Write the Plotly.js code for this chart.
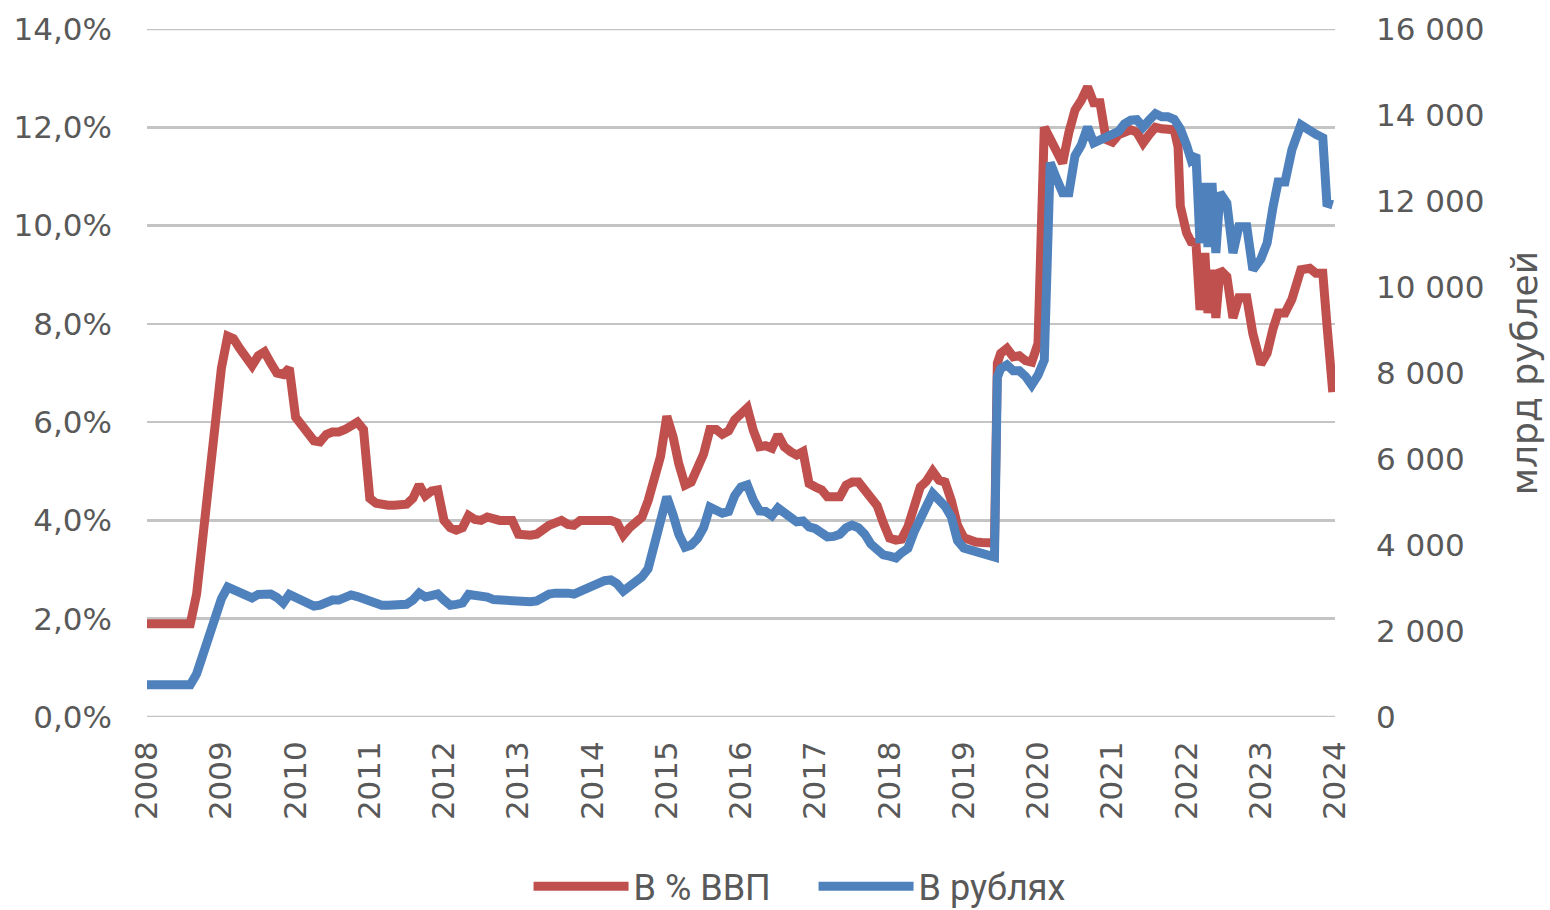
<!DOCTYPE html>
<html>
<head>
<meta charset="utf-8">
<script src="https://cdn.plot.ly/plotly-3.0.1.min.js"></script>
<style>
  html, body { margin: 0; padding: 0; background: #ffffff; }
  #chart { width: 1550px; height: 910px; }
</style>
</head>
<body>
<div id="chart"></div>
<script>
// Dates of the observations
const dates = [
  "2008-01","2008-02","2008-03","2008-04","2008-05","2008-06","2008-07","2008-08","2008-09","2008-10","2008-11","2008-12",
  "2009-01","2009-02","2009-03","2009-04","2009-05","2009-06","2009-07","2009-08","2009-09","2009-10","2009-11","2009-12",
  "2010-01","2010-02","2010-03","2010-04","2010-05","2010-06","2010-07","2010-08","2010-09","2010-10","2010-11","2010-12",
  "2011-01","2011-02","2011-03","2011-04","2011-05","2011-06","2011-07","2011-08","2011-09","2011-10","2011-11","2011-12",
  "2012-01","2012-02","2012-03","2012-04","2012-05","2012-06","2012-07","2012-08","2012-09","2012-10","2012-11","2012-12",
  "2013-01","2013-02","2013-03","2013-04","2013-05","2013-06","2013-07","2013-08","2013-09","2013-10","2013-11","2013-12",
  "2014-01","2014-02","2014-03","2014-04","2014-05","2014-06","2014-07","2014-08","2014-09","2014-10","2014-11","2014-12",
  "2015-01","2015-02","2015-03","2015-04","2015-05","2015-06","2015-07","2015-08","2015-09","2015-10","2015-11","2015-12",
  "2016-01","2016-02","2016-03","2016-04","2016-05","2016-06","2016-07","2016-08","2016-09","2016-10","2016-11","2016-12",
  "2017-01","2017-02","2017-03","2017-04","2017-05","2017-06","2017-07","2017-08","2017-09","2017-10","2017-11","2017-12",
  "2018-01","2018-02","2018-03","2018-04","2018-05","2018-06","2018-07","2018-08","2018-09","2018-10","2018-11","2018-12",
  "2019-01","2019-02","2019-03","2019-04","2019-05","2019-06-01","2019-06-15","2019-07","2019-08","2019-09","2019-10","2019-11","2019-12",
  "2020-01","2020-02","2020-03","2020-04","2020-05","2020-06","2020-07","2020-08","2020-09","2020-10","2020-11","2020-12",
  "2021-01","2021-02","2021-03","2021-04","2021-05","2021-06","2021-07","2021-08","2021-09","2021-10","2021-11","2021-11-20","2021-12",
  "2022-01-01","2022-01-23","2022-02-16","2022-03-08","2022-04-01","2022-04-16","2022-05-06","2022-05-25","2022-06-14","2022-07-18","2022-08-17","2022-09-15","2022-10-24","2022-11-23",
  "2023-01-01","2023-02-01","2023-03-02","2023-03-27","2023-04-30","2023-06-03","2023-07-17","2023-08-30","2023-09-29","2023-11-02","2023-11-22","2023-12-21"
];

// В % ВВП (left axis, percent)
const pctGDP = [
  1.9,1.9,1.9,1.9,1.9,1.9,1.9,1.9,2.5,3.55,4.6,5.8,
  7.1,7.75,7.7,7.5,7.3,7.15,7.35,7.43,7.2,7.0,6.97,7.1,
  6.1,5.95,5.75,5.62,5.6,5.75,5.8,5.8,5.85,5.95,6.0,5.85,
  4.45,4.35,4.31,4.31,4.31,4.31,4.33,4.45,4.72,4.5,4.6,4.62,
  4.0,3.85,3.8,3.85,4.1,4.02,4.0,4.07,4.02,4.0,4.0,4.0,
  3.72,3.7,3.7,3.72,3.82,3.9,3.95,4.0,3.92,3.9,4.0,4.0,
  4.0,4.0,4.0,4.0,3.95,3.7,3.85,3.95,4.07,4.4,4.9,5.3,
  6.12,5.7,5.15,4.72,4.78,5.05,5.35,5.85,5.85,5.75,5.82,6.05,
  6.2,6.29,5.84,5.5,5.52,5.47,5.74,5.5,5.4,5.33,5.4,4.75,
  4.68,4.62,4.48,4.48,4.48,4.72,4.78,4.78,4.6,4.45,4.3,3.95,
  3.64,3.6,3.62,3.87,4.3,4.68,4.8,5.0,4.82,4.78,4.4,3.9,
  3.65,3.58,3.56,3.55,3.54,3.54,7.2,7.4,7.5,7.33,7.35,7.25,7.22,
  7.6,12.0,11.75,11.55,11.27,11.9,12.35,12.55,12.82,12.5,12.5,11.75,
  11.7,11.85,11.9,11.95,11.9,11.68,11.85,12.0,11.97,11.98,11.95,11.6,10.4,
  9.85,9.67,9.65,8.28,9.44,8.22,9.1,8.12,9.1,8.96,8.12,8.53,8.53,7.8,
  7.18,7.4,7.9,8.22,8.22,8.5,9.1,9.13,9.03,9.03,8.0,6.61
];

// В рублях (right axis, bln rubles)
const rubles = [
  750,750,750,750,750,750,750,750,1000,1440,1880,2310,
  2750,3020,2950,2880,2830,2770,2850,2880,2860,2780,2650,2850,
  2780,2690,2640,2580,2600,2680,2720,2720,2780,2840,2800,2740,
  2700,2650,2600,2600,2600,2600,2620,2720,2880,2790,2840,2860,
  2720,2600,2620,2650,2850,2840,2830,2790,2730,2720,2700,2680,
  2680,2680,2680,2700,2790,2860,2880,2900,2880,2860,2920,3000,
  3070,3140,3170,3190,3100,2930,3020,3120,3260,3450,3950,4520,
  5120,4700,4250,3950,4000,4150,4400,4880,4800,4740,4780,5150,
  5350,5400,5050,4790,4780,4680,4860,4750,4620,4540,4560,4420,
  4380,4300,4190,4200,4250,4400,4460,4400,4250,4020,3880,3770,
  3740,3700,3820,3920,4300,4650,4900,5200,5070,4900,4650,4100,
  3930,3880,3860,3840,3780,3720,7900,8100,8190,8050,8050,7920,7720,
  7950,8300,12890,12520,12190,12190,13050,13300,13720,13350,13420,13500,
  13560,13620,13790,13880,13890,13720,13880,14030,13960,13960,13900,13750,13680,
  13300,12960,13070,11020,12420,10930,12420,10790,12190,11950,10790,11400,11400,10400,
  10650,11020,11860,12440,12440,13190,13770,13610,13550,13470,11950,11910
];

const yearTicks = ["2008-01-01","2009-01-01","2010-01-01","2011-01-01","2012-01-01","2013-01-01","2014-01-01","2015-01-01","2016-01-01","2017-01-01","2018-01-01","2019-01-01","2020-01-01","2021-01-01","2022-01-01","2023-01-01","2024-01-01"];
const yearLabels = ["2008","2009","2010","2011","2012","2013","2014","2015","2016","2017","2018","2019","2020","2021","2022","2023","2024"];

const seriesNames = ["В % ВВП", "В рублях"];
const rightTitle = "млрд рублей";
const pctRange = [0, 14];

const RED = "#C0504D";
const BLUE = "#4F81BD";
const TXT = "#595959";
const GRID = "#c4c4c4";

const traces = [
  {
    x: dates, y: pctGDP, name: seriesNames[0], type: "scatter", mode: "lines",
    line: {color: RED, width: 9, shape: "linear"}, yaxis: "y", xaxis: "x",
    hoverinfo: "skip"
  },
  {
    x: dates, y: rubles, name: seriesNames[1], type: "scatter", mode: "lines",
    line: {color: BLUE, width: 9, shape: "linear"}, yaxis: "y2", xaxis: "x",
    hoverinfo: "skip"
  }
];

// edge grid lines (Plotly drops grid lines that sit exactly on the plot edges)
const edgeLines = pctRange.map(v => ({
  type: "line", xref: "paper", x0: 0, x1: 1, yref: "y", y0: v, y1: v,
  line: {color: GRID, width: 2.5}, layer: "below"
}));

const layout = {
  width: 1550, height: 910,
  margin: {l: 147, r: 215, t: 29, b: 193, pad: 0, autoexpand: false},
  paper_bgcolor: "#ffffff", plot_bgcolor: "#ffffff",
  separators: ", ",
  showlegend: true,
  font: {family: "DejaVu Sans, sans-serif", color: TXT},
  shapes: edgeLines,
  xaxis: {
    type: "date",
    range: ["2008-01-01", "2024-01-01"],
    tickmode: "array", tickvals: yearTicks, ticktext: yearLabels,
    tickangle: -90,
    tickfont: {family: "DejaVu Sans, sans-serif", size: 31, color: TXT},
    showgrid: false, zeroline: false, showline: false,
    ticks: "", ticklabelstandoff: 17
  },
  yaxis: {
    range: pctRange, dtick: 2, tick0: 0,
    tickformat: ".1f", ticksuffix: "%",
    tickfont: {family: "DejaVu Sans, sans-serif", size: 31, color: TXT},
    showgrid: true, gridcolor: GRID, gridwidth: 2.5,
    zeroline: false, showline: false, ticks: "",
    ticklabelstandoff: 34
  },
  yaxis2: {
    range: [0, 16000], dtick: 2000, tick0: 0,
    tickformat: ",d",
    overlaying: "y", side: "right",
    tickfont: {family: "DejaVu Sans, sans-serif", size: 31, color: TXT},
    showgrid: false, zeroline: false, showline: false, ticks: "",
    ticklabelstandoff: 40,
    title: {text: rightTitle, font: {family: "DejaVu Sans, sans-serif", size: 36, color: TXT}, standoff: 28}
  },
  legend: {
    orientation: "h",
    xref: "container", yref: "container",
    x: 0.341, xanchor: "left",
    y: 0.026, yanchor: "middle",
    font: {family: "Roboto, sans-serif", size: 36, color: TXT},
    itemwidth: 95,
    entrywidth: 175, entrywidthmode: "pixels",
    bgcolor: "rgba(0,0,0,0)",
    traceorder: "normal"
  }
};

Plotly.newPlot("chart", traces, layout, {displayModeBar: false, staticPlot: true});
</script>
</body>
</html>
